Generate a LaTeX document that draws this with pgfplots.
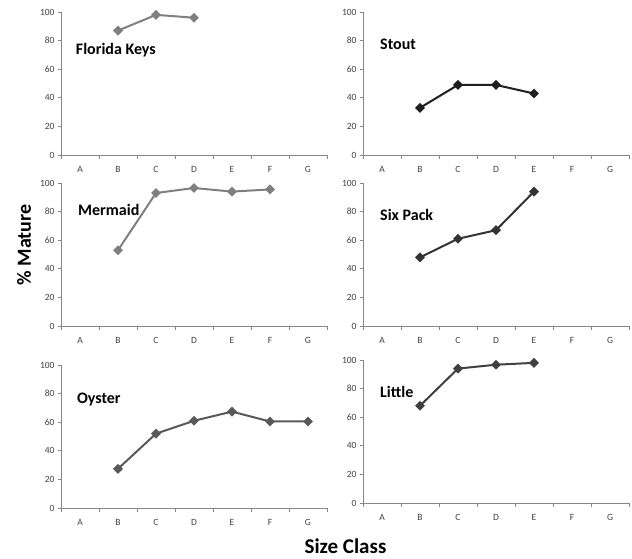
\documentclass[border=0pt]{standalone}
\usepackage{fontspec}
\setmainfont{Carlito}
\usepackage{pgfplots}
\pgfplotsset{compat=1.18}
\definecolor{axgray}{HTML}{868686}
\definecolor{tickcol}{HTML}{404040}
\definecolor{lgray}{HTML}{7F7F7F}
\definecolor{mgray}{HTML}{595959}
\definecolor{dblack}{HTML}{1F1F1F}
\definecolor{dgray}{HTML}{333333}
\definecolor{dgrayb}{HTML}{404040}
\pgfplotsset{panel/.style={
  scale only axis, width=266pt, height=143pt,
  xmin=-0.5, xmax=6.5, ymin=0, ymax=100,
  axis x line*=bottom, axis y line*=left,
  axis line style={axgray, line width=0.8pt, -},
  xtick={0,...,6}, xticklabels={A,B,C,D,E,F,G},
  major x tick style={draw=none},
  minor xtick={-0.5,0.5,1.5,2.5,3.5,4.5,5.5,6.5},
  ytick={0,20,40,60,80,100},
  tick align=outside,
  tick style={axgray, line width=0.8pt},
  major tick length=3pt, minor tick length=4pt,
  ticklabel style={font=\fontsize{9.5}{10}\selectfont, text=tickcol},
  xticklabel style={yshift=-5pt},
  /pgf/number format/assume math mode=true,
  anchor=south west, clip=false,
  every axis plot/.append style={line width=2pt, mark=square*, mark size=2.5pt},
}}
\newcommand{\plab}[2]{\node[anchor=base west, font=\fontsize{16}{18}\selectfont\bfseries, text=black] at (axis cs:#1) {#2};}
\begin{document}
\begin{tikzpicture}
\path[use as bounding box] (0,0) rectangle (632pt,558pt);
% top-left
\begin{axis}[panel, at={(61pt,403pt)}]
\addplot[lgray, mark options={fill=lgray, rotate=45}] coordinates {(1,87) (2,98) (3,96)};
\plab{-0.2,70.6}{Florida Keys}
\end{axis}
% top-right
\begin{axis}[panel, at={(363pt,403pt)}]
\addplot[dblack, mark options={fill=dblack, rotate=45}] coordinates {(1,33) (2,49) (3,49) (4,43)};
\plab{-0.14,74}{Stout}
\end{axis}
% mid-left
\begin{axis}[panel, at={(61pt,232pt)}]
\addplot[lgray, mark options={fill=lgray, rotate=45}] coordinates {(1,53) (2,93) (3,96.5) (4,94) (5,95.5)};
\plab{-0.14,77}{Mermaid}
\end{axis}
% mid-right
\begin{axis}[panel, at={(363pt,232pt)}]
\addplot[dgray, mark options={fill=dgray, rotate=45}] coordinates {(1,48) (2,61) (3,67) (4,94)};
\plab{-0.14,73.6}{Six Pack}
\end{axis}
% bottom-left
\begin{axis}[panel, at={(61pt,50pt)}]
\addplot[mgray, mark options={fill=mgray, rotate=45}] coordinates {(1,27.4) (2,52) (3,61) (4,67.4) (5,60.5) (6,60.5)};
\plab{-0.17,73.4}{Oyster}
\end{axis}
% bottom-right
\begin{axis}[panel, at={(363pt,55pt)}]
\addplot[dgrayb, mark options={fill=dgrayb, rotate=45}] coordinates {(1,68) (2,94) (3,96.7) (4,98)};
\plab{-0.14,73.9}{Little}
\end{axis}
\node[rotate=90, font=\fontsize{20}{22}\selectfont\bfseries, anchor=center] at (24pt,313pt) {\% Mature};
\node[font=\fontsize{21}{23}\selectfont\bfseries, anchor=base] at (345.5pt,5pt) {Size Class};
\end{tikzpicture}
\end{document}
